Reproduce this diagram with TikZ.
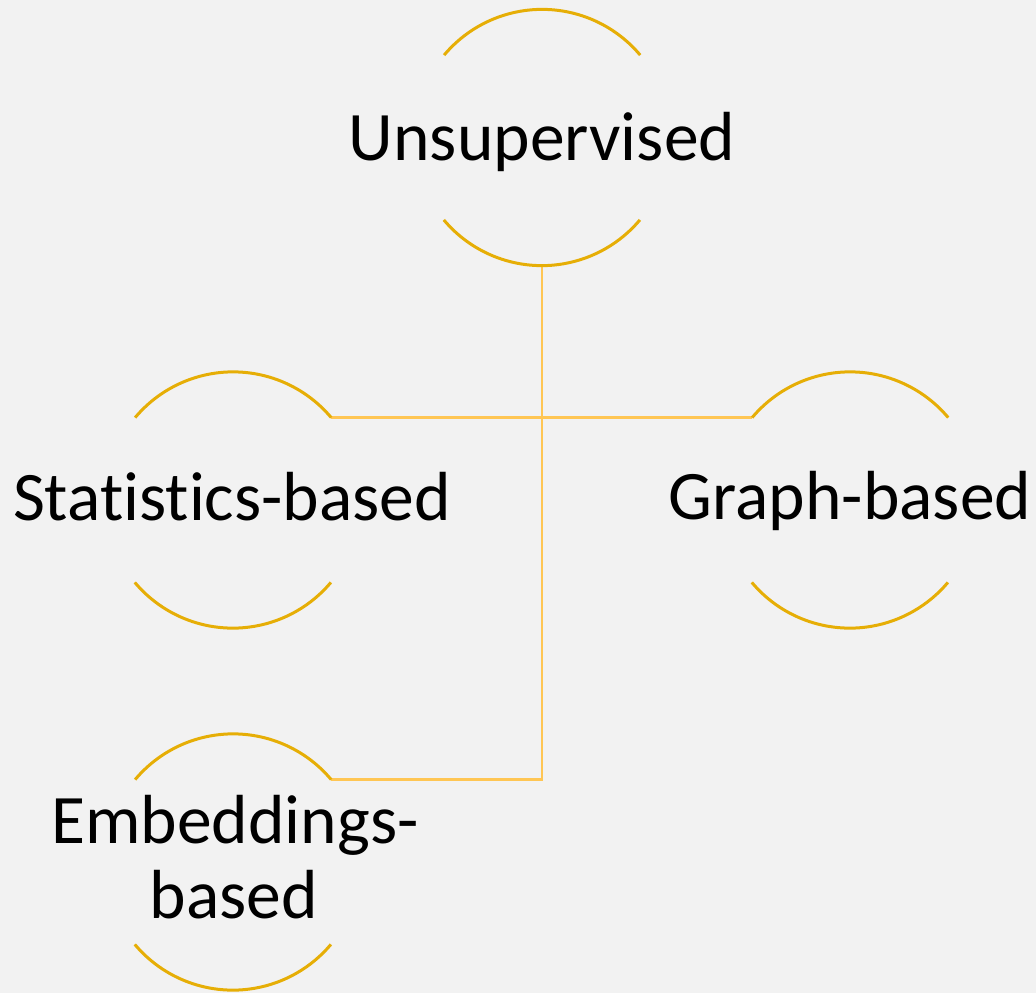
\documentclass[tikz,border=0pt]{standalone}
\usepackage{fontspec}
\setmainfont{Carlito}[RawFeature={-liga;-clig;-calt}]
\definecolor{pagebg}{HTML}{F2F2F2}
\definecolor{ringgold}{HTML}{E6AE06}
\definecolor{linkgold}{HTML}{FFC654}
\begin{document}
\begin{tikzpicture}[x=1pt,y=-1pt,
  ring/.style={circle,minimum size=256pt,inner sep=0pt,draw=none},
  ringarc/.style={draw=ringgold,line width=3pt},
  link/.style={draw=linkgold,line width=2.8pt},
  lbl/.style={anchor=base,inner sep=0pt,font=\fontsize{69.5}{72}\selectfont,text=black}]
  \fill[pagebg] (0,0) rectangle (1036,993);
  \useasboundingbox (0,0) rectangle (1036,993);

  % topic rings
  \node[ring] (u) at (542,137.5) {};
  \node[ring] (s) at (233,500) {};
  \node[ring] (g) at (850,500) {};
  \node[ring] (e) at (233,862) {};

  % connectors between rings
  \draw[link] (u.270) |- (e.40);
  \draw[link] (s.40) -- (g.140);

  % upper and lower arcs of every ring
  \foreach \n in {u,s,g,e}{
    \draw[ringarc] (\n.40) arc[start angle=-40,end angle=-140,radius=128];
    \draw[ringarc] (\n.220) arc[start angle=140,end angle=40,radius=128];
  }

  % labels
  \node[lbl] (ut) at (542,160) {Unsupervised};
  \node[lbl] (st) at (232,520) {Statistics-based};
  \node[lbl] (gt) at (850,519) {Graph-based};
  \node[lbl] (et1) at (235,843) {Embeddings-};
  \node[lbl] (et2) at (234,918) {based};
\end{tikzpicture}
\end{document}
